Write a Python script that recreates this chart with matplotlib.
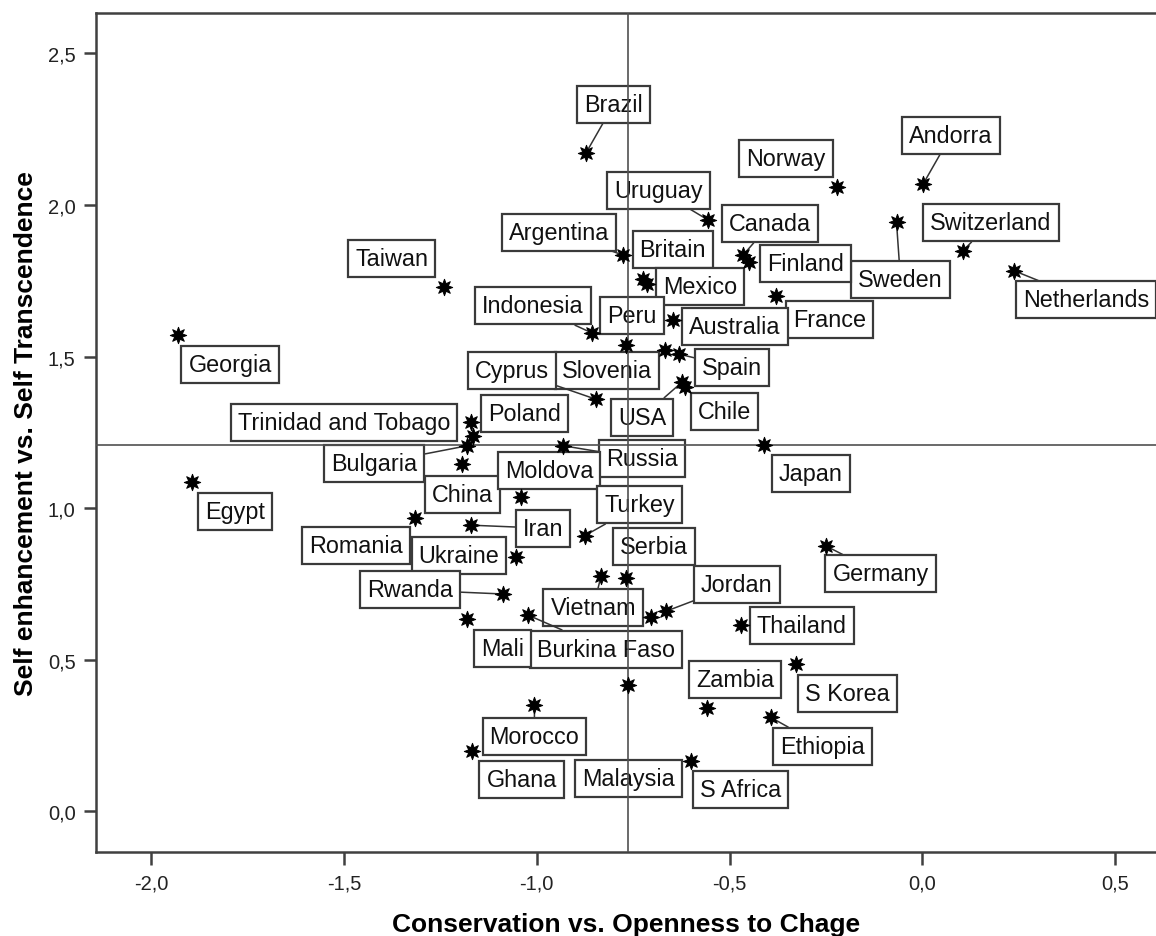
import matplotlib
matplotlib.use('Agg')
import matplotlib.pyplot as plt
from matplotlib.ticker import FuncFormatter

plt.rcParams['font.family'] = ['Liberation Sans', 'DejaVu Sans']

# country values
countries = ['Brazil', 'Norway', 'Andorra', 'Uruguay', 'Sweden', 'Switzerland',
             'Canada', 'Finland', 'Argentina', 'Netherlands', 'Britain', 'Mexico',
             'Taiwan', 'France', 'Australia', 'Indonesia', 'Georgia', 'Peru',
             'Slovenia', 'Spain', 'USA', 'Chile', 'Cyprus', 'Trinidad and Tobago',
             'Poland', 'Bulgaria', 'Russia', 'China', 'Japan', 'Egypt', 'Moldova',
             'Romania', 'Iran', 'Turkey', 'Germany', 'Ukraine', 'Vietnam', 'Serbia',
             'Rwanda', 'Jordan', '', 'Burkina Faso', 'Mali', 'Thailand', 'S Korea',
             'Malaysia', 'Morocco', 'Zambia', 'Ethiopia', 'Ghana', 'S Africa']
conservation = [-0.873, -0.221, 0.002, -0.555, -0.067, 0.105,
                -0.464, -0.449, -0.777, 0.238, -0.725, -0.714,
                -1.241, -0.380, -0.647, -0.857, -1.930, -0.769,
                -0.668, -0.630, -0.623, -0.616, -0.846, -1.171,
                -1.166, -1.180, -0.932, -1.195, -0.411, -1.894, -1.041,
                -1.316, -1.171, -0.876, -0.251, -1.054, -0.833, -0.769,
                -1.087, -0.665, -0.704, -1.022, -1.182, -0.471, -0.328,
                -0.763, -1.006, -0.558, -0.393, -1.169, -0.601]
enhancement = [2.170, 2.059, 2.069, 1.950, 1.943, 1.849,
               1.836, 1.812, 1.835, 1.783, 1.756, 1.739,
               1.728, 1.701, 1.620, 1.578, 1.571, 1.538,
               1.522, 1.508, 1.416, 1.399, 1.359, 1.283,
               1.239, 1.206, 1.206, 1.145, 1.209, 1.085, 1.036,
               0.966, 0.944, 0.909, 0.876, 0.839, 0.777, 0.769,
               0.717, 0.660, 0.640, 0.647, 0.634, 0.614, 0.486,
               0.418, 0.352, 0.340, 0.310, 0.200, 0.167]
mean_x = -0.763
mean_y = 1.21

# label box placement (pixels from the point) and whether a leader line is drawn
label_pos = {
    'Brazil': (28, 49, True), 'Norway': (-51, 29, False), 'Andorra': (28, 49, True),
    'Uruguay': (-50, 30, True), 'Sweden': (4, -57, True), 'Switzerland': (28, 28, True),
    'Canada': (27, 31, True), 'Finland': (56, -2, False), 'Argentina': (-64, 23, True),
    'Netherlands': (72, -29, True), 'Britain': (30, 29, False), 'Mexico': (53, -2, True),
    'Taiwan': (-52, 29, False), 'France': (54, -24, False), 'Australia': (62, -6, False),
    'Indonesia': (-59, 27, True), 'Georgia': (52, -29, False), 'Peru': (6, 30, False),
    'Slovenia': (-58, -21, False), 'Spain': (53, -13, True), 'USA': (-40, -35, True),
    'Chile': (40, -24, False), 'Cyprus': (-84, 29, True),
    'Trinidad and Tobago': (-127, 0, False), 'Poland': (52, 22, False),
    'Bulgaria': (-93, -18, True), 'Russia': (79, -13, True), 'China': (1, -30, False),
    'Japan': (47, -29, False), 'Egypt': (43, -29, False), 'Moldova': (28, 27, False),
    'Romania': (-59, -27, False), 'Iran': (72, -3, True), 'Turkey': (55, 31, True),
    'Germany': (55, -28, True), 'Ukraine': (-57, 2, False), 'Vietnam': (-8, -32, True),
    'Serbia': (28, 32, False), 'Rwanda': (-93, 4, True), 'Jordan': (71, 27, True),
    'Burkina Faso': (78, -34, True), 'Mali': (36, -29, False), 'Thailand': (61, 0, False),
    'S Korea': (52, -29, False), 'Malaysia': (0, -94, False), 'Morocco': (0, -32, True),
    'Zambia': (28, 29, False), 'Ethiopia': (52, -29, True), 'Ghana': (50, -29, False),
    'S Africa': (50, -29, False),
}

fig = plt.figure(figsize=(11.56, 9.37), dpi=100)
ax = fig.add_axes([0.0834, 0.0893, 0.9166, 0.8957])

ax.set_xlim(-2.142, 0.606)
ax.set_ylim(-0.135, 2.633)

ax.axvline(mean_x, color='#505050', lw=1.2, zorder=4)
ax.axhline(mean_y, color='#505050', lw=1.2, zorder=4)

ax.scatter(conservation, enhancement, marker=(8, 1, 0), s=140, color='black',
           edgecolors='black', linewidths=0.7, zorder=5)

for name, xv, yv in zip(countries, conservation, enhancement):
    if not name:
        continue
    dx, dy, leader = label_pos[name]
    props = None
    if leader:
        props = dict(arrowstyle='-', color='#333333', lw=1.1, shrinkA=0, shrinkB=2)
    ax.annotate(name, xy=(xv, yv), xytext=(dx, dy), textcoords='offset pixels',
                ha='center', va='center', fontsize=16.8, color='#111111',
                bbox=dict(boxstyle='square,pad=0.3', fc='white', ec='#3a3a3a', lw=1.6),
                arrowprops=props, annotation_clip=False, zorder=3)

ax.set_xticks([-2.0, -1.5, -1.0, -0.5, 0.0, 0.5])
ax.set_yticks([0.0, 0.5, 1.0, 1.5, 2.0, 2.5])
comma = FuncFormatter(lambda v, p: ('%.1f' % v).replace('.', ','))
ax.xaxis.set_major_formatter(comma)
ax.yaxis.set_major_formatter(comma)
ax.tick_params(axis='both', direction='out', length=9, width=1.8, color='#404040',
               labelsize=14.5, labelcolor='#222222', pad=6)

for side in ['left', 'bottom', 'top']:
    ax.spines[side].set_color('#404040')
    ax.spines[side].set_linewidth(1.8)
ax.spines['right'].set_visible(False)

ax.set_xlabel('Conservation vs. Openness to Chage', fontsize=19, fontweight='bold',
              labelpad=14)
ax.set_ylabel('Self enhancement vs. Self Transcendence', fontsize=19,
              fontweight='bold', labelpad=7)

fig.savefig('out.png', dpi=100)
